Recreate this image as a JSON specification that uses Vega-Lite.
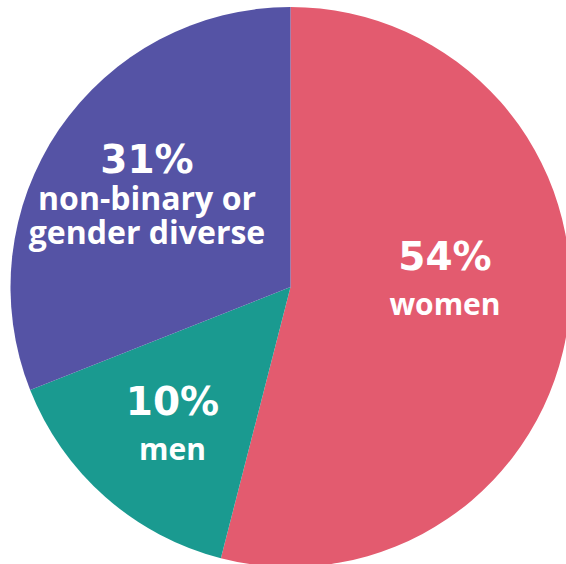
{
  "$schema": "https://vega.github.io/schema/vega-lite/v6.json",
  "width": 551,
  "height": 554,
  "autosize": {"type": "none"},
  "padding": {"left": 15, "top": 10, "right": 0, "bottom": 0},
  "background": "white",
  "view": {"stroke": null},
  "data": {
    "values": [
      {"idx": 1, "group": "women", "share": 54, "pct": "54%", "desc": "women"},
      {"idx": 2, "group": "men", "share": 15, "pct": "10%", "desc": "men"},
      {"idx": 3, "group": "non-binary or gender diverse", "share": 31, "pct": "31%", "desc": "non-binary or\ngender diverse"}
    ]
  },
  "encoding": {
    "theta": {"field": "share", "type": "quantitative", "stack": true},
    "order": {"field": "idx", "type": "quantitative"}
  },
  "layer": [
    {
      "mark": {"type": "arc", "outerRadius": 280},
      "encoding": {
        "color": {
          "field": "group",
          "type": "nominal",
          "scale": {
            "domain": ["women", "men", "non-binary or gender diverse"],
            "range": ["#E35B6F", "#1A9A90", "#5553A5"]
          },
          "legend": null
        }
      }
    },
    {
      "mark": {"type": "text", "radius": 155.7, "dy": -36.5, "font": "DejaVu Sans", "fontWeight": "bold", "fontSize": 39, "fill": "white", "align": "center", "baseline": "alphabetic"},
      "encoding": {"text": {"condition": {"test": "datum.group === 'women'", "field": "pct", "type": "nominal"}, "value": ""}}
    },
    {
      "mark": {"type": "text", "radius": 155.7, "dy": 8.5, "font": "Open Sans", "fontWeight": "bold", "fontSize": 30, "fill": "white", "align": "center", "baseline": "alphabetic"},
      "encoding": {"text": {"condition": {"test": "datum.group === 'women'", "field": "desc", "type": "nominal"}, "value": ""}}
    },
    {
      "mark": {"type": "text", "radius": 178.5, "dy": -6, "font": "DejaVu Sans", "fontWeight": "bold", "fontSize": 39, "fill": "white", "align": "center", "baseline": "alphabetic"},
      "encoding": {"text": {"condition": {"test": "datum.group === 'men'", "field": "pct", "type": "nominal"}, "value": ""}}
    },
    {
      "mark": {"type": "text", "radius": 178.5, "dy": 39, "font": "Open Sans", "fontWeight": "bold", "fontSize": 30, "fill": "white", "align": "center", "baseline": "alphabetic"},
      "encoding": {"text": {"condition": {"test": "datum.group === 'men'", "field": "desc", "type": "nominal"}, "value": ""}}
    },
    {
      "mark": {"type": "text", "radius": 173.5, "dy": -16.5, "font": "DejaVu Sans", "fontWeight": "bold", "fontSize": 39, "fill": "white", "align": "center", "baseline": "alphabetic"},
      "encoding": {"text": {"condition": {"test": "datum.group === 'non-binary or gender diverse'", "field": "pct", "type": "nominal"}, "value": ""}}
    },
    {
      "mark": {"type": "text", "radius": 173.5, "dy": 21, "font": "Open Sans", "fontWeight": "bold", "fontSize": 32, "lineHeight": 34, "lineBreak": "\n", "fill": "white", "align": "center", "baseline": "alphabetic"},
      "encoding": {"text": {"condition": {"test": "datum.group === 'non-binary or gender diverse'", "field": "desc", "type": "nominal"}, "value": ""}}
    }
  ]
}
